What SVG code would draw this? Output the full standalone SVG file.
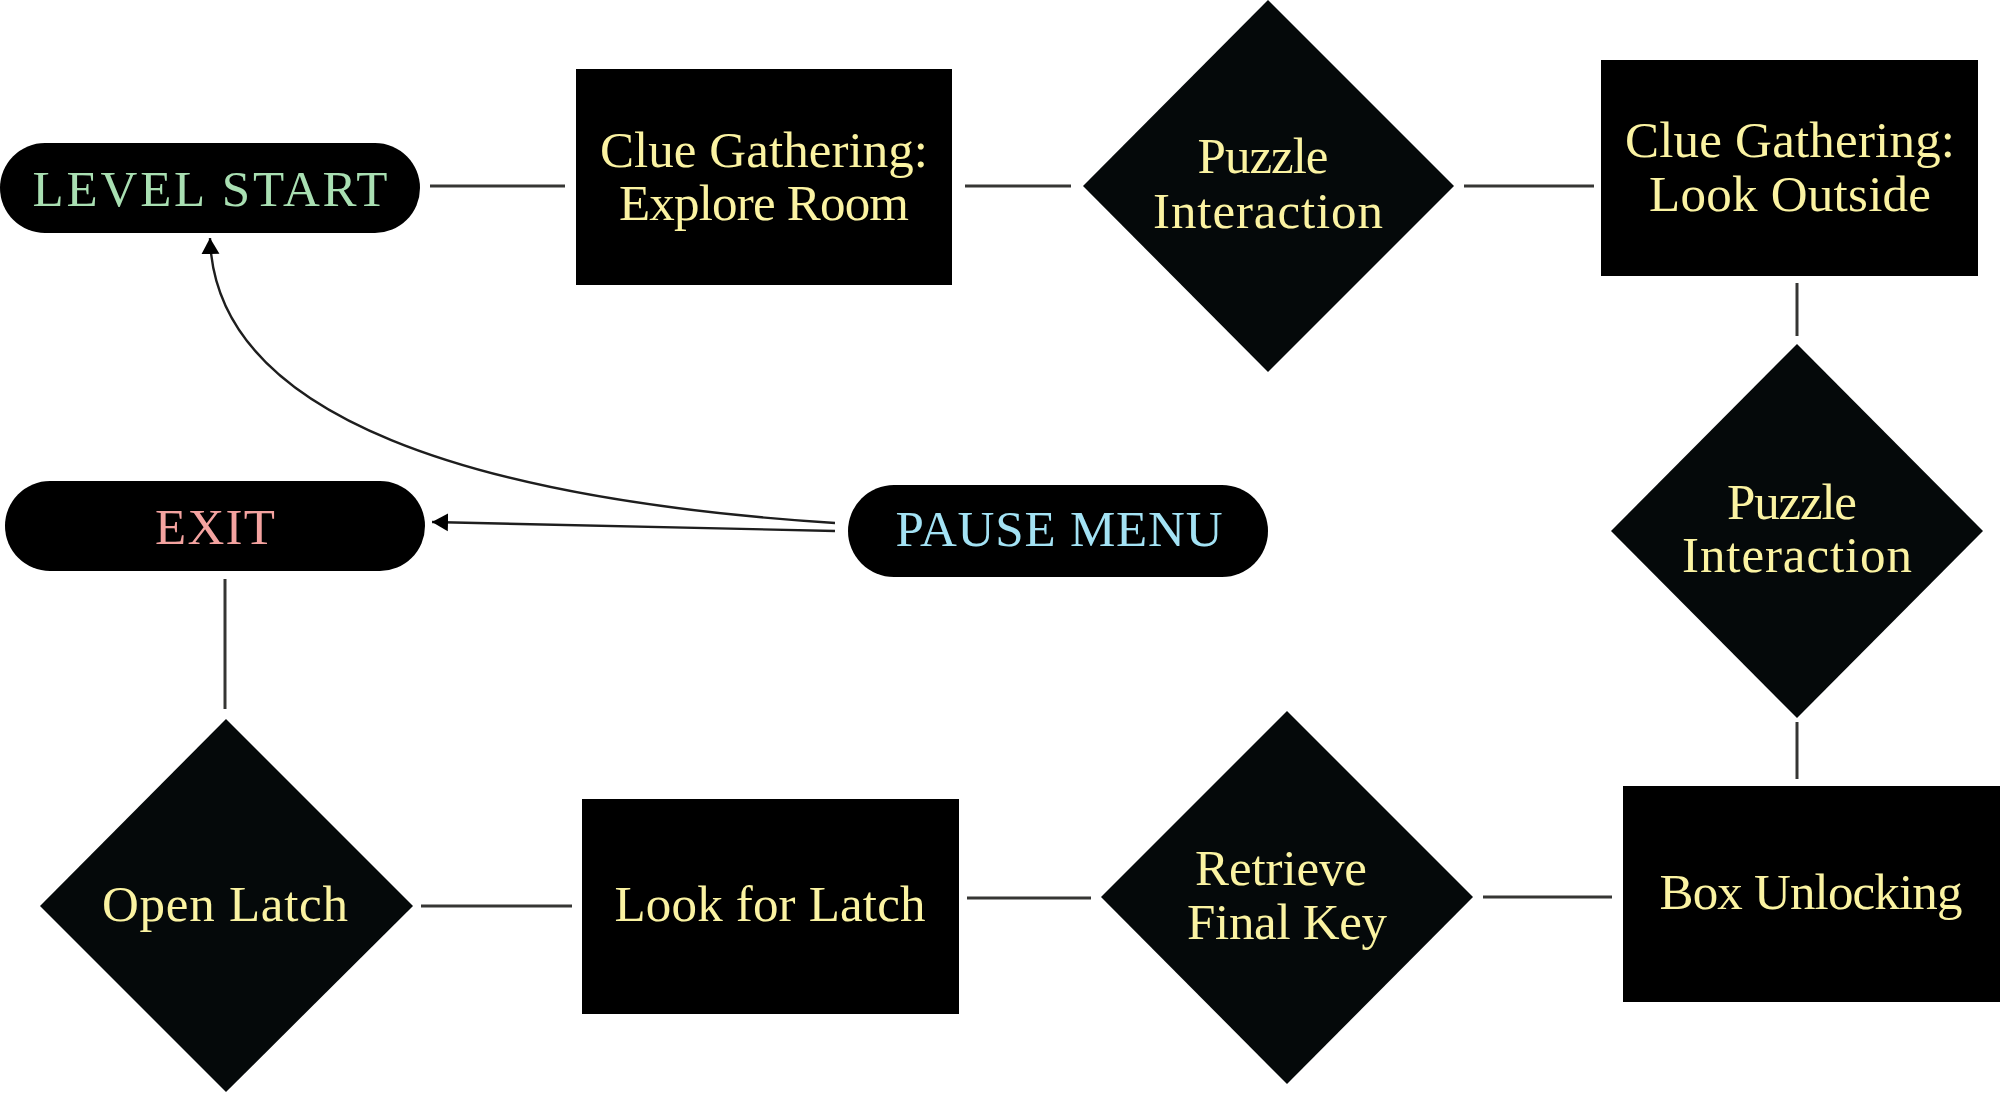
<svg xmlns="http://www.w3.org/2000/svg" width="2000" height="1112" viewBox="0 0 2000 1112">
<defs>
<style>
.pill{fill:#000}
.box{fill:#000}
.dia{fill:#05090a}
.t{font-family:"Liberation Serif","Times New Roman",serif;font-size:51px;text-anchor:middle}
.y{fill:#fbf3a2}
.link{stroke:#363634;stroke-width:3;fill:none}
.arrow{stroke:#1e1e1e;stroke-width:2.4;fill:none;marker-end:url(#ah)}
</style>
<marker id="ah" markerUnits="userSpaceOnUse" markerWidth="20" markerHeight="20" refX="16" refY="10" orient="auto" viewBox="0 0 20 20">
<path d="M0,1 L16,10 L0,19 z" fill="#000"/>
</marker>
</defs>
<rect width="2000" height="1112" fill="#fff"/>

<g id="connectors">
<line class="link" x1="430" y1="186" x2="565" y2="186"/>
<line class="link" x1="965" y1="186" x2="1071" y2="186"/>
<line class="link" x1="1464" y1="186" x2="1594" y2="186"/>
<line class="link" x1="1797" y1="283" x2="1797" y2="336"/>
<line class="link" x1="1797" y1="722" x2="1797" y2="779"/>
<line class="link" x1="1483" y1="897" x2="1612" y2="897"/>
<line class="link" x1="967" y1="898" x2="1091" y2="898"/>
<line class="link" x1="421" y1="906" x2="572" y2="906"/>
<line class="link" x1="225" y1="579" x2="225" y2="709"/>
<path class="arrow" d="M835,523 C480,500 215,420 210,238"/>
<path class="arrow" d="M835,531 L432,522"/>
</g>

<g id="level-start">
<rect class="pill" x="0" y="143" width="420" height="90" rx="45"/>
<text class="t" x="210" y="206" fill="#a9dfb2" textLength="355" lengthAdjust="spacing">LEVEL START</text>
</g>

<g id="clue-explore">
<rect class="box" x="576" y="69" width="376" height="216"/>
<text class="t y" x="764" y="167" textLength="328" lengthAdjust="spacing">Clue Gathering:</text>
<text class="t y" x="764" y="220" textLength="290" lengthAdjust="spacing">Explore Room</text>
</g>

<g id="puzzle-1">
<polygon class="dia" points="1268,0 1454,186 1268,372 1083,186"/>
<text class="t y" x="1263" y="173" textLength="131" lengthAdjust="spacing">Puzzle</text>
<text class="t y" x="1268" y="228" textLength="230" lengthAdjust="spacing">Interaction</text>
</g>

<g id="clue-outside">
<rect class="box" x="1601" y="60" width="377" height="216"/>
<text class="t y" x="1790" y="157" textLength="330" lengthAdjust="spacing">Clue Gathering:</text>
<text class="t y" x="1790" y="211" textLength="282" lengthAdjust="spacing">Look Outside</text>
</g>

<g id="puzzle-2">
<polygon class="dia" points="1797,344 1983,531 1797,718 1611,531"/>
<text class="t y" x="1792" y="519" textLength="130" lengthAdjust="spacing">Puzzle</text>
<text class="t y" x="1797" y="572" textLength="230" lengthAdjust="spacing">Interaction</text>
</g>

<g id="pause-menu">
<rect class="pill" x="848" y="485" width="420" height="92" rx="46"/>
<text class="t" x="1059" y="546" fill="#a3e2f4" textLength="327" lengthAdjust="spacing">PAUSE MENU</text>
</g>

<g id="exit">
<rect class="pill" x="5" y="481" width="420" height="90" rx="45"/>
<text class="t" x="215" y="544" fill="#f4a3a0" textLength="120" lengthAdjust="spacing">EXIT</text>
</g>

<g id="open-latch">
<polygon class="dia" points="226,719 413,906 226,1092 40,906"/>
<text class="t y" x="225" y="921" textLength="246" lengthAdjust="spacing">Open Latch</text>
</g>

<g id="look-latch">
<rect class="box" x="582" y="799" width="377" height="215"/>
<text class="t y" x="770" y="921" textLength="311" lengthAdjust="spacing">Look for Latch</text>
</g>

<g id="retrieve-key">
<polygon class="dia" points="1287,711 1473,897 1287,1084 1101,897"/>
<text class="t y" x="1281" y="885" textLength="172" lengthAdjust="spacing">Retrieve</text>
<text class="t y" x="1287" y="939" textLength="200" lengthAdjust="spacing">Final Key</text>
</g>

<g id="box-unlocking">
<rect class="box" x="1623" y="786" width="377" height="216"/>
<text class="t y" x="1811" y="909" textLength="303" lengthAdjust="spacing">Box Unlocking</text>
</g>
</svg>
